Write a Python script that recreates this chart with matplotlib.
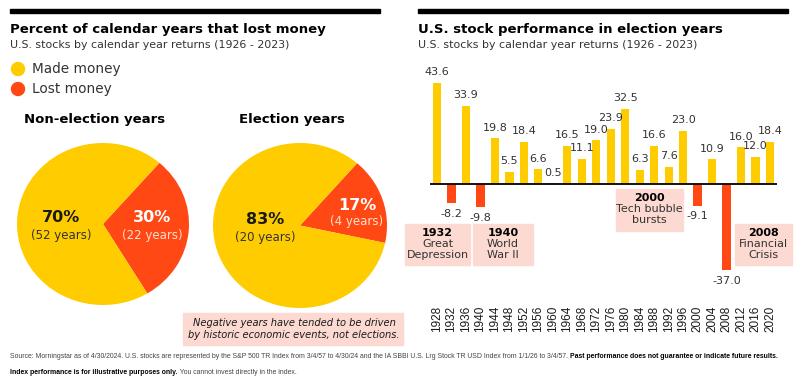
import numpy as np
import matplotlib.pyplot as plt
from matplotlib.patches import Rectangle, Ellipse

# data
years = [1928, 1932, 1936, 1940, 1944, 1948, 1952, 1956, 1960, 1964, 1968, 1972,
         1976, 1980, 1984, 1988, 1992, 1996, 2000, 2004, 2008, 2012, 2016, 2020]
returns = [43.6, -8.2, 33.9, -9.8, 19.8, 5.5, 18.4, 6.6, 0.5, 16.5, 11.1, 19.0,
           23.9, 32.5, 6.3, 16.6, 7.6, 23.0, -9.1, 10.9, -37.0, 16.0, 12.0, 18.4]
pie_titles = ["Non-election years", "Election years"]
lost_pct = [30, 17]
made_pct = [70, 83]
lost_years = [22, 4]
made_years = [52, 20]
events = [(1932, "Great\nDepression"), (1940, "World\nWar II"),
          (2000, "Tech bubble\nbursts"), (2008, "Financial\nCrisis")]

YELLOW = "#FFCC00"
RED = "#FF4814"
PINK = "#FCDAD1"
DARK = "#1a1a1a"
GREY = "#333333"

W, H = 800, 383
fig = plt.figure(figsize=(W / 100, H / 100), dpi=100)
plt.rcParams['font.family'] = ['DejaVu Sans']


def fx(x):
    return x / W


def fy(y):
    return 1 - y / H


def txt(x, y, s, **kw):
    return fig.text(fx(x), fy(y), s, **kw)


def axes_px(x0, y0, x1, y1):
    return fig.add_axes([fx(x0), fy(y1), (x1 - x0) / W, (y1 - y0) / H])


# top rules
for x0, x1 in [(10, 380), (418, 788)]:
    fig.add_artist(Rectangle((fx(x0), fy(13)), (x1 - x0) / W, 4 / H,
                             transform=fig.transFigure, color="black"))

# left header
txt(10, 29, "Percent of calendar years that lost money", fontsize=9.5,
    fontweight="bold", va="center", color="black")
txt(10, 45, "U.S. stocks by calendar year returns (1926 - 2023)", fontsize=7.9,
    va="center", color=GREY)
for yy, c, lab in [(69, YELLOW, "Made money"), (89, RED, "Lost money")]:
    fig.add_artist(Ellipse((fx(18), fy(yy)), 13 / W, 13 / H,
                           transform=fig.transFigure, color=c))
    txt(32, yy, lab, fontsize=9.8, va="center", color=GREY)

# pies
pie_boxes = [(17, 143, 189, 305), (213, 143, 387, 308)]
for i, (x0, y0, x1, y1) in enumerate(pie_boxes):
    ax = axes_px(x0, y0, x1, y1)
    ax.pie([lost_pct[i], made_pct[i]], colors=[RED, YELLOW], startangle=49,
           counterclock=False, radius=1,
           wedgeprops=dict(linewidth=0))
    ax.set_aspect("auto")
    ax.set_xlim(-1, 1)
    ax.set_ylim(-1, 1)
    cx = (x0 + x1) / 2
    txt(cx - 8, 119, pie_titles[i], fontsize=9.5, fontweight="bold",
        ha="center", va="center", color="black")

txt(61, 218, "70%", fontsize=11.5, fontweight="bold", ha="center", va="center", color=DARK)
txt(61, 236, "(52 years)", fontsize=8.5, ha="center", va="center", color=GREY)
txt(152, 218, "30%", fontsize=11.5, fontweight="bold", ha="center", va="center", color="white")
txt(152, 236, "(22 years)", fontsize=8.5, ha="center", va="center", color="#ffe0d0")
txt(265, 220, "83%", fontsize=11.5, fontweight="bold", ha="center", va="center", color=DARK)
txt(265, 237, "(20 years)", fontsize=8.5, ha="center", va="center", color=GREY)
txt(357, 206, "17%", fontsize=11.5, fontweight="bold", ha="center", va="center", color="white")
txt(357, 222, "(4 years)", fontsize=8.5, ha="center", va="center", color="#ffe0d0")

# note box
fig.add_artist(Rectangle((fx(183), fy(345)), 220 / W, 32 / H,
                         transform=fig.transFigure, color=PINK))
txt(294, 329, "Negative years have tended to be driven\nby historic economic events, not elections.",
    fontsize=7.1, style="italic", fontweight="medium", ha="center", va="center",
    color=DARK, linespacing=1.3)

# right header
txt(418, 29, "U.S. stock performance in election years", fontsize=9.5,
    fontweight="bold", va="center", color="black")
txt(418, 45, "U.S. stocks by calendar year returns (1926 - 2023)", fontsize=7.9,
    va="center", color=GREY)

# bar chart
ax = axes_px(425, 60, 780, 303)
xs = np.arange(len(years))
cols = [YELLOW if v >= 0 else RED for v in returns]
ax.bar(xs, returns, width=0.57, color=cols, zorder=2)
ax.hlines(0, -0.5, len(years) - 0.5, color="black", linewidth=1.3, zorder=3)
ax.set_xlim(-0.83, 23.69)
ax.set_ylim(-51, 53.5)
for x, v in zip(xs, returns):
    if v >= 0:
        ax.annotate(f"{v:.1f}", (x, v), xytext=(0, 4), textcoords="offset points",
                    ha="center", va="bottom", fontsize=8, color=GREY)
    else:
        ax.annotate(f"{v:.1f}", (x, v), xytext=(0, -4), textcoords="offset points",
                    ha="center", va="top", fontsize=8, color=GREY)
ax.set_xticks(xs)
ax.set_xticklabels([str(y) for y in years], rotation=90, fontsize=8.5,
                   family=["Liberation Sans"], color=DARK)
ax.tick_params(length=0, pad=2)
ax.set_yticks([])
for s in ax.spines.values():
    s.set_visible(False)

# event boxes (pixel coords)
event_boxes = [(405, 224, 470, 265), (473, 224, 533, 265),
               (616, 189, 683, 231), (735, 224, 792, 265)]
for (yr, lab), (x0, y0, x1, y1) in zip(events, event_boxes):
    fig.add_artist(Rectangle((fx(x0), fy(y1)), (x1 - x0) / W, (y1 - y0) / H,
                             transform=fig.transFigure, color=PINK))
    cx = (x0 + x1) / 2
    txt(cx, y0 + 9, str(yr), fontsize=8, fontweight="bold", ha="center",
        va="center", color="black")
    txt(cx, y0 + 15, lab, fontsize=8, ha="center", va="top", color=GREY,
        linespacing=1.15)

# footnote with mixed weights, sized so the long line fits
fig.canvas.draw()
r = fig.canvas.get_renderer()
foot = [
    [("Source: Morningstar as of 4/30/2024. U.S. stocks are represented by the S&P 500 TR Index "
      "from 3/4/57 to 4/30/24 and the IA SBBI U.S. Lrg Stock TR USD Index from 1/1/26 to 3/4/57. ", "normal"),
     ("Past performance does not guarantee or indicate future results.", "bold")],
    [("Index performance is for illustrative purposes only.", "bold"),
     (" You cannot invest directly in the index.", "normal")],
]
base = 5.2
probe = 0
for s, wgt in foot[0]:
    t = txt(0, 0, s, fontsize=base, fontweight=wgt, family=["Liberation Sans"])
    probe += t.get_window_extent(renderer=r).width
    t.remove()
fsize = base * 767 / probe
for line, yy in zip(foot, [356, 372]):
    x = 10
    for s, wgt in line:
        t = txt(x, yy, s, fontsize=fsize, fontweight=wgt, va="center",
                color="#444444" if wgt == "normal" else "black",
                family=["Liberation Sans"])
        x += t.get_window_extent(renderer=r).width

fig.savefig("out.png", dpi=100)
